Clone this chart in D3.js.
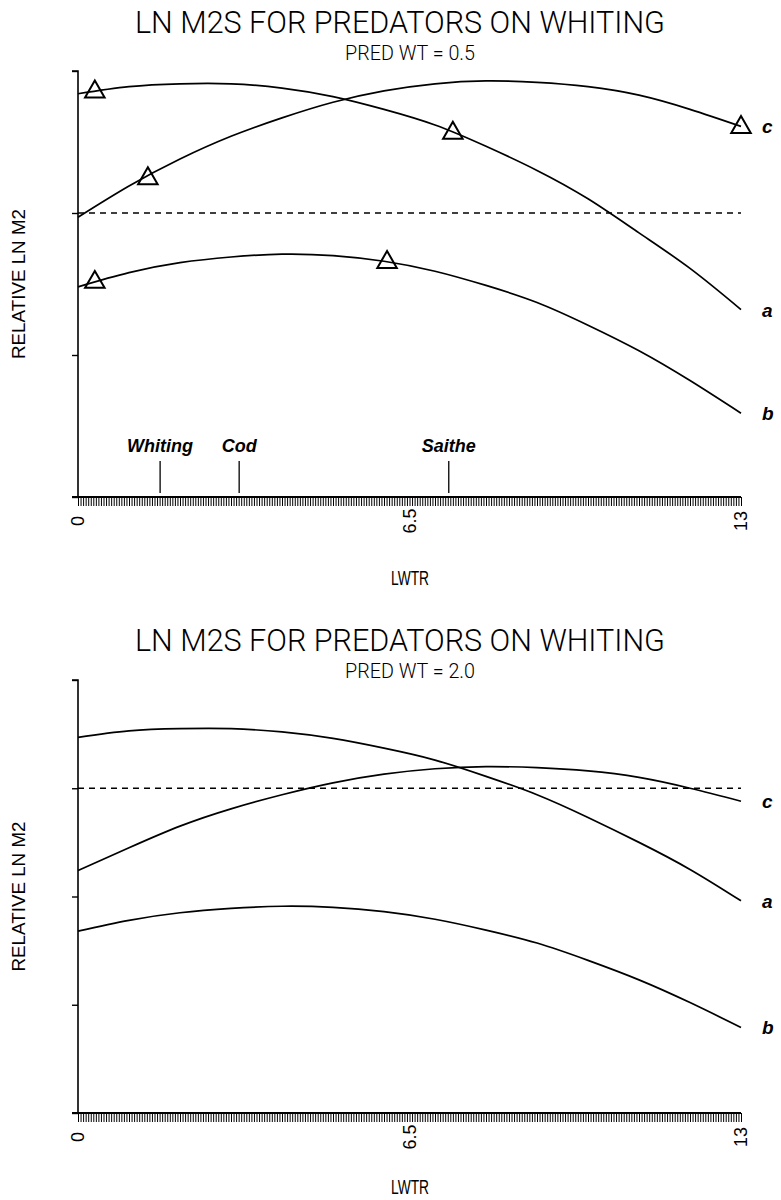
<!DOCTYPE html>
<html>
<head>
<meta charset="utf-8">
<script src="https://cdn.jsdelivr.net/npm/d3@7"></script>
<style>
  body { margin: 0; background: #fff; }
  svg { display: block; }
  .title { font-family: Roboto, "Liberation Sans", sans-serif; font-weight: 300; }
  .lab { font-family: "Liberation Sans", Arial, sans-serif; }
  .ital { font-family: "Liberation Sans", Arial, sans-serif; font-weight: bold; font-style: italic; }
</style>
</head>
<body>
<div id="chart"></div>
<script>
// DATA (LWTR vs relative ln M2)
const lwtr = [0, 1, 2, 3, 4, 5, 6, 7, 8, 9, 10, 11, 12, 13];

// PRED WT = 0.5
const topA = [0.84, 0.89, 0.91, 0.91, 0.88, 0.82, 0.73, 0.62, 0.47, 0.30, 0.10, -0.14, -0.39, -0.68];
const topB = [-0.52, -0.42, -0.35, -0.31, -0.29, -0.30, -0.34, -0.41, -0.51, -0.63, -0.79, -0.97, -1.18, -1.41];
const topC = [-0.03, 0.19, 0.38, 0.54, 0.67, 0.78, 0.86, 0.91, 0.93, 0.92, 0.89, 0.83, 0.73, 0.61];

// PRED WT = 2.0
const botA = [0.47, 0.53, 0.55, 0.55, 0.52, 0.46, 0.37, 0.26, 0.11, -0.06, -0.27, -0.50, -0.75, -1.04];
const botB = [-1.32, -1.22, -1.15, -1.11, -1.09, -1.10, -1.14, -1.21, -1.31, -1.43, -1.59, -1.77, -1.98, -2.21];
const botC = [-0.76, -0.55, -0.35, -0.19, -0.06, 0.05, 0.13, 0.18, 0.20, 0.19, 0.16, 0.10, 0.00, -0.12];

// triangles (top panel only)
const triX = [0.33, 7.35, 0.33, 6.06, 1.37, 13];
const triV = [0.86, 0.57, -0.48, -0.34, 0.25, 0.61];

// predator sizes marked on the LWTR axis
const predNames = ["Whiting", "Cod", "Saithe"];
const predX = [1.61, 3.16, 7.27];

const xTickVals = [0, 6.5, 13];

const W = 781, H = 1200;
const svg = d3.select("#chart").append("svg")
    .attr("width", W)
    .attr("height", H);

function drawPanel(p) {
    const x = d3.scaleLinear().domain([0, 13]).range([78, 741]);
    const y = d3.scaleLinear().domain(p.yDomain).range([p.bottom, p.top]);
    const g = svg.append("g");

    // TITLE
    g.append("text").attr("class", "title")
        .attr("x", 400).attr("y", p.titleY)
        .attr("text-anchor", "middle")
        .attr("font-size", 31)
        .attr("textLength", 530).attr("lengthAdjust", "spacingAndGlyphs")
        .text("LN M2S FOR PREDATORS ON WHITING");
    g.append("text").attr("class", "title")
        .attr("x", 410).attr("y", p.titleY + 27)
        .attr("text-anchor", "middle")
        .attr("font-size", 21)
        .attr("font-weight", 400)
        .attr("textLength", 130).attr("lengthAdjust", "spacingAndGlyphs")
        .text(p.subtitle);

    // Y AXIS (ticks only, no labels)
    const yAxis = d3.axisLeft(y)
        .tickValues(d3.range(p.yDomain[0], p.yDomain[1] + 1))
        .tickSize(6).tickFormat("");
    const yg = g.append("g")
        .attr("transform", `translate(78,0)`)
        .call(yAxis);
    yg.select(".domain").attr("stroke-width", 1.6).attr("d", `M-6,${p.top}H0V${p.bottom}`);
    yg.selectAll(".tick line").attr("stroke-width", 1.4);

    // X AXIS: dense comb of minor ticks
    const xMinor = d3.axisBottom(x)
        .tickValues(d3.range(0, 261).map(i => i * 13 / 260))
        .tickSize(9).tickFormat("");
    const xg = g.append("g")
        .attr("transform", `translate(0,${p.bottom})`)
        .call(xMinor);
    xg.select(".domain").attr("stroke-width", 2).attr("d", "M72,0H741");
    xg.selectAll(".tick line").attr("stroke-width", 1);

    // x tick labels, rotated
    g.selectAll(".xlab").data(xTickVals).enter()
        .append("text").attr("class", "lab")
        .attr("transform", d => `translate(${x(d) + 6},${p.bottom + 24}) rotate(-90)`)
        .attr("text-anchor", "middle")
        .attr("font-size", 18)
        .text(d => d);

    g.append("text").attr("class", "lab")
        .attr("x", 410).attr("y", p.bottom + p.lwtrDy)
        .attr("text-anchor", "middle")
        .attr("font-size", 20)
        .attr("textLength", 38).attr("lengthAdjust", "spacingAndGlyphs")
        .text("LWTR");

    g.append("text").attr("class", "lab")
        .attr("transform", `translate(25,${(p.top + p.bottom) / 2}) rotate(-90)`)
        .attr("text-anchor", "middle")
        .attr("font-size", 18)
        .attr("textLength", 150).attr("lengthAdjust", "spacingAndGlyphs")
        .text("RELATIVE LN M2");

    // reference line at 0
    g.append("line")
        .attr("x1", x(0)).attr("x2", x(13))
        .attr("y1", y(0)).attr("y2", y(0))
        .attr("stroke", "#000").attr("stroke-width", 1.5)
        .attr("stroke-dasharray", "6,5");

    // CURVES
    const line = d3.line()
        .x((d, i) => x(lwtr[i]))
        .y(d => y(d))
        .curve(d3.curveNatural);

    const series = [
        { key: "a", vals: p.a },
        { key: "b", vals: p.b },
        { key: "c", vals: p.c }
    ];
    g.selectAll(".curve").data(series).enter()
        .append("path")
        .attr("class", "curve")
        .attr("d", d => line(d.vals))
        .attr("fill", "none")
        .attr("stroke", "#000")
        .attr("stroke-width", 1.7);

    g.selectAll(".clab").data(series).enter()
        .append("text").attr("class", "ital")
        .attr("x", x(13) + 21)
        .attr("y", d => y(d.vals[d.vals.length - 1]) + 7)
        .attr("font-size", 19)
        .text(d => d.key);

    // TRIANGLES
    if (p.triangles) {
        const tri = d3.symbol().type(d3.symbolTriangle).size(165);
        g.selectAll(".tri").data(triX).enter()
            .append("path")
            .attr("transform", (d, i) => `translate(${x(d)},${y(triV[i]) + 1})`)
            .attr("d", tri)
            .attr("fill", "none")
            .attr("stroke", "#000")
            .attr("stroke-width", 2);
    }

    // PREDATOR SIZE MARKS
    if (p.preds) {
        predX.forEach((v, i) => {
            g.append("line")
                .attr("x1", x(v)).attr("x2", x(v))
                .attr("y1", p.bottom - 36).attr("y2", p.bottom - 4)
                .attr("stroke", "#000").attr("stroke-width", 1.3);
            g.append("text").attr("class", "ital")
                .attr("x", x(v)).attr("y", p.bottom - 45)
                .attr("text-anchor", "middle")
                .attr("font-size", 18)
                .text(predNames[i]);
        });
    }
}

drawPanel({
    titleY: 33, subtitle: "PRED WT = 0.5",
    top: 71, bottom: 497, yDomain: [-2, 1], lwtrDy: 88,
    a: topA, b: topB, c: topC, triangles: true, preds: true
});

drawPanel({
    titleY: 651, subtitle: "PRED WT = 2.0",
    top: 680, bottom: 1113, yDomain: [-3, 1], lwtrDy: 81,
    a: botA, b: botB, c: botC, triangles: false, preds: false
});
</script>
</body>
</html>
